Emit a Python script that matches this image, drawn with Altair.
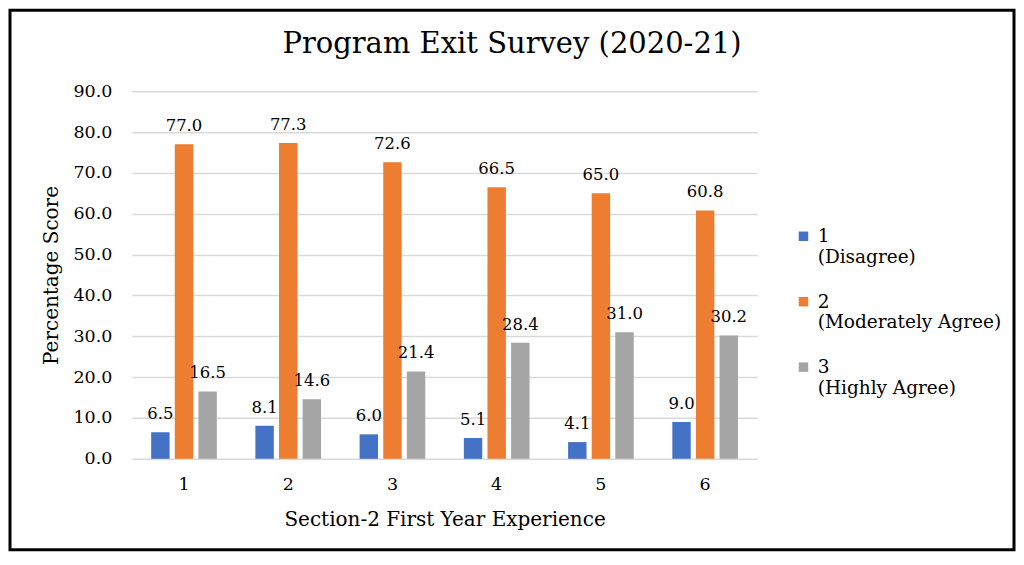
import altair as alt
import pandas as pd

chart_title = "Program Exit Survey (2020-21)"
questions = ["1", "2", "3", "4", "5", "6"]
series = ["1|(Disagree)", "2|(Moderately Agree)", "3|(Highly Agree)"]
disagree = [6.5, 8.1, 6.0, 5.1, 4.1, 9.0]
moderately_agree = [77.0, 77.3, 72.6, 66.5, 65.0, 60.8]
highly_agree = [16.5, 14.6, 21.4, 28.4, 31.0, 30.2]
colors = ["#4472C4", "#ED7D31", "#A5A5A5"]
y_ticks = [0, 10, 20, 30, 40, 50, 60, 70, 80, 90]

rows = []
for s, vals in zip(series, [disagree, moderately_agree, highly_agree]):
    for q, v in zip(questions, vals):
        rows.append({"q": q, "s": s, "v": v})
df = pd.DataFrame(rows)

FONT = "DejaVu Serif"
TXT = "#000000"

x = alt.X(
    "q:N", title="Section-2 First Year Experience", sort=questions,
    scale=alt.Scale(paddingInner=0.37, paddingOuter=0.185),
    axis=alt.Axis(labelAngle=0, domain=False, ticks=False, labelPadding=17,
                  labelFontSize=17.5, titleFontSize=20, titlePadding=16, grid=False),
)
y = alt.Y(
    "v:Q", title="Percentage Score", scale=alt.Scale(domain=[0, 90], nice=False),
    axis=alt.Axis(values=y_ticks, format=".1f", domain=False, ticks=False,
                  labelPadding=20, labelFontSize=17.5, titleFontSize=20,
                  titlePadding=11, gridColor="#D9D9D9", gridWidth=1.5),
)
xoff = alt.XOffset("s:N", sort=series, scale=alt.Scale(paddingInner=0.22))

bars = alt.Chart(df).mark_bar().encode(
    x=x, y=y, xOffset=xoff,
    color=alt.Color(
        "s:N", sort=series, scale=alt.Scale(domain=series, range=colors),
        legend=alt.Legend(
            title=None, orient="none", legendX=663, legendY=142,
            symbolType="M-1,-2.27H1V-0.27H-1Z", symbolSize=90, symbolStrokeWidth=0,
            labelFont=FONT, labelFontSize=18.5, labelColor=TXT,
            labelExpr="split(datum.label, '|')", labelBaseline="alphabetic",
            labelOffset=5, rowPadding=25.5, labelLimit=300,
        ),
    ),
)

labels = alt.Chart(df).mark_text(
    dy=-13, baseline="alphabetic", fontSize=16.5, font=FONT, color=TXT
).encode(x=x, y=y, xOffset=xoff, text=alt.Text("v:Q", format=".1f"))

title_mark = alt.Chart(alt.Data(values=[{"t": chart_title}])).mark_text(
    fontSize=29, font=FONT, baseline="alphabetic", align="center", color=TXT
).encode(x=alt.value(380.5), y=alt.value(-38), text="t:N")

frame = alt.Chart(alt.Data(values=[{}])).mark_rect(
    fillOpacity=0, stroke="black", strokeWidth=3
).encode(x=alt.value(-122), x2=alt.value(883), y=alt.value(-81), y2=alt.value(459))

chart = alt.layer(bars, labels, title_mark, frame).properties(
    width=626, height=368, padding=0
).configure_view(strokeWidth=0).configure_axis(
    labelFont=FONT, titleFont=FONT, labelColor=TXT, titleColor=TXT,
    titleFontWeight="normal",
)

chart.save("out.html", embed_options={"renderer": "svg", "actions": False})
